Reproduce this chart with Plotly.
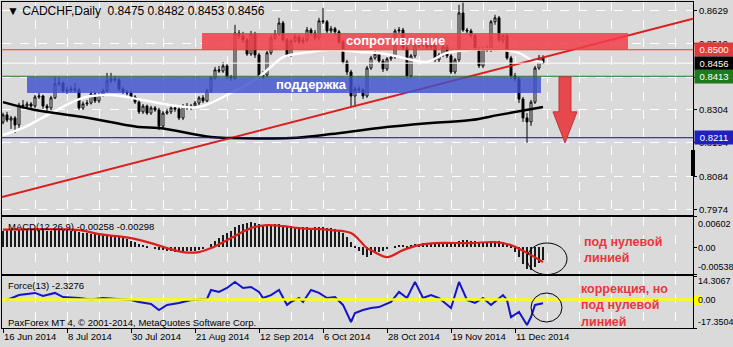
import plotly.graph_objects as go

# ---------------- data ----------------
BAR = list(range(136))
OPEN = [.8262,.8286,.8269,.8276,.8253,.8318,.8315,.8322,.8315,.8345,.8348,.8315,.8309,.8342,.8388,.8391,.8365,.8368,.8371,.8368,
        .8309,.8322,.8325,.8355,.8332,.8351,.8365,.8398,.8404,.8401,.8371,.8361,.8358,.8345,.8328,.8296,.8315,.8292,.8309,.8302,
        .8249,.8292,.8296,.8309,.8305,.8276,.8315,.8309,.8315,.8325,.8342,.8332,.8365,.8407,.8434,.8430,.8447,.8411,.8407,.8555,
        .8546,.8532,.8486,.8552,.8483,.8411,.8417,.8490,.8539,.8552,.8588,.8532,.8483,.8529,.8542,.8526,.8532,.8565,.8555,.8539,
        .8595,.8592,.8562,.8569,.8559,.8526,.8460,.8427,.8348,.8371,.8368,.8348,.8440,.8473,.8486,.8463,.8437,.8470,.8476,.8562,
        .8565,.8506,.8414,.8480,.8513,.8516,.8519,.8509,.8516,.8467,.8483,.8509,.8480,.8427,.8467,.8621,.8565,.8562,.8546,.8503,
        .8447,.8503,.8500,.8592,.8605,.8532,.8546,.8473,.8414,.8404,.8338,.8276,.8263,.8328,.8440,.8475]
HIGH = [.8293,.8296,.8283,.8282,.8326,.8335,.8330,.8328,.8352,.8358,.8352,.8322,.8349,.8411,.8411,.8396,.8378,.8381,.8391,.8374,
        .8330,.8335,.8362,.8361,.8358,.8372,.8424,.8424,.8414,.8408,.8378,.8368,.8365,.8351,.8335,.8322,.8320,.8316,.8315,.8309,
        .8299,.8306,.8318,.8318,.8312,.8322,.8325,.8322,.8332,.8348,.8351,.8372,.8414,.8444,.8447,.8460,.8453,.8417,.8582,.8565,
        .8559,.8539,.8562,.8559,.8490,.8430,.8496,.8549,.8565,.8605,.8595,.8539,.8536,.8552,.8549,.8542,.8575,.8572,.8565,.8605,
        .8638,.8598,.8578,.8575,.8565,.8532,.8467,.8434,.8378,.8381,.8375,.8447,.8480,.8496,.8493,.8470,.8476,.8486,.8569,.8575,
        .8572,.8513,.8486,.8522,.8526,.8532,.8526,.8526,.8522,.8490,.8516,.8516,.8486,.8473,.8648,.8655,.8572,.8569,.8552,.8509,
        .8509,.8513,.8598,.8615,.8611,.8552,.8552,.8480,.8424,.8411,.8345,.8292,.8335,.8447,.8483,.8482]
LOW = [.8255,.8262,.8240,.8226,.8243,.8306,.8308,.8305,.8309,.8338,.8306,.8299,.8302,.8338,.8380,.8358,.8355,.8360,.8361,.8302,
       .8302,.8315,.8320,.8325,.8325,.8345,.8360,.8391,.8394,.8365,.8355,.8350,.8338,.8322,.8289,.8289,.8286,.8286,.8296,.8236,
       .8243,.8286,.8289,.8296,.8269,.8269,.8302,.8302,.8309,.8318,.8325,.8328,.8358,.8401,.8424,.8424,.8404,.8398,.8401,.8536,
       .8522,.8480,.8480,.8473,.8404,.8404,.8411,.8483,.8532,.8546,.8526,.8476,.8476,.8522,.8519,.8519,.8526,.8546,.8532,.8532,
       .8585,.8555,.8555,.8549,.8519,.8453,.8417,.8312,.8312,.8358,.8338,.8342,.8434,.8467,.8457,.8427,.8430,.8463,.8470,.8552,
       .8500,.8407,.8407,.8473,.8506,.8509,.8500,.8500,.8460,.8460,.8476,.8473,.8420,.8420,.8460,.8559,.8552,.8539,.8496,.8440,
       .8440,.8493,.8493,.8582,.8526,.8522,.8467,.8404,.8394,.8325,.8263,.8194,.8250,.8322,.8434,.8453]
CLOSE = [.8286,.8269,.8276,.8253,.8318,.8315,.8322,.8315,.8345,.8348,.8315,.8309,.8342,.8388,.8391,.8365,.8368,.8371,.8368,.8309,
         .8322,.8325,.8355,.8332,.8351,.8365,.8398,.8404,.8401,.8371,.8361,.8358,.8345,.8328,.8296,.8315,.8292,.8309,.8302,.8249,
         .8292,.8296,.8309,.8305,.8276,.8315,.8309,.8315,.8325,.8342,.8332,.8365,.8407,.8434,.8430,.8447,.8411,.8407,.8555,.8546,
         .8532,.8486,.8552,.8483,.8411,.8417,.8490,.8539,.8552,.8588,.8532,.8483,.8529,.8542,.8526,.8532,.8565,.8555,.8539,.8595,
         .8592,.8562,.8569,.8559,.8526,.8460,.8427,.8348,.8371,.8368,.8348,.8440,.8473,.8486,.8463,.8437,.8470,.8476,.8562,.8565,
         .8506,.8414,.8480,.8513,.8516,.8519,.8509,.8516,.8467,.8483,.8509,.8480,.8427,.8467,.8621,.8565,.8562,.8546,.8503,.8447,
         .8503,.8500,.8592,.8605,.8532,.8546,.8473,.8414,.8404,.8338,.8276,.8263,.8328,.8440,.8473,.8456]

MA_WHITE_X = [0,5,12,20,27,35,42,49,57,63,67,70,77,82,89,93,97,102,106,111,117,124,129,132,135]
MA_WHITE_Y = [.8220,.8243,.8292,.8342,.8351,.8335,.8318,.8312,.8358,.8401,.8444,.8476,.8493,.8500,.8493,.8490,
              .8483,.8467,.8460,.8490,.8500,.8500,.8490,.8467,.8460]
MA_BLACK_X = [0,8,20,34,39,52,57,72,82,94,107,117,124,135]
MA_BLACK_Y = [.8328,.8302,.8279,.8246,.8243,.8213,.8210,.8210,.8223,.8243,.8259,.8269,.8286,.8312]

TREND_X = [-0.25, 172.5]
TREND_Y = [0.8016, 0.8602]

MACD = [.0033,.0034,.0034,.0033,.0034,.0035,.0034,.0034,.0035,.0035,.0034,.0033,.0033,.0034,.0035,.0035,.0034,.0033,.0032,.0030,
        .0029,.0028,.0027,.0026,.0025,.0024,.0024,.0024,.0023,.0021,.0019,.0016,.0013,.0010,
        .0006,.0004,.0002,.0000,
        -.0002,-.0005,-.0006,-.0007,-.0008,-.0009,-.0010,-.0009,-.0008,-.0008,-.0007,-.0005,-.0003,
        .0000,.0006,.0012,.0018,.0024,.0028,.0032,.0040,.0044,.0046,.0048,.0050,
        .0049,.0046,.0045,.0045,.0045,.0046,.0047,.0045,.0042,.0042,.0041,.0040,.0040,.0040,.0039,.0040,.0041,.0040,.0039,.0038,
        .0036,.0033,.0028,
        .0020,.0010,.0002,-.0008,-.0016,
        -.0020,-.0016,-.0012,-.0010,-.0008,-.0004,.0000,
        .0003,.0005,.0004,.0002,.0004,.0006,.0007,.0008,.0008,.0008,.0007,.0007,.0008,.0008,.0007,
        .0008,.0012,.0014,.0014,.0013,.0012,.0011,.0010,.0011,.0013,.0013,.0012,.0010,.0006,
        .0001,-.0010,-.0020,-.0034,-.0044,-.0046,-.0040,-.0032,-.00258]
SIG_X = [0,19,24,32,37,41,45,49,52,57,62,66,70,74,82,87,91,92,96,100,104,108,117,123,127,132,135]
SIG_Y = [.0035,.0034,.0026,.0018,.0008,-.0002,-.0010,-.0010,-.0002,.0018,.0038,.0044,.0042,.0038,.0034,.0028,
         -.0002,-.0006,-.0020,-.0006,.0004,.0008,.0008,.0010,.0004,-.0016,-.00298]

FORCE_X = [1,4,8,10,13,15,19,22,25,28,32,34,37,39,41,44,47,51,52,54,56,58,59,60,62,64,65,67,69,70,
           71,72,74,75,77,79,81,83,85,87,88,90,92,94,97,99,101,103,105,107,109,112,114,116,118,120,122,125,126,127,
           129,131,132,133,135]
FORCE_Y = [-0.3,2.7,4.0,2.1,4.0,1.5,0.9,0.0,0.9,0.3,-0.3,-1.5,-2.7,-6.4,-3.3,-2.1,-0.3,0.3,5.8,4.6,
           7.0,10.7,8.8,7.0,7.6,4.6,0.9,2.7,5.8,1.5,-3.3,-1.5,0.9,-1.5,5.8,4.0,0.9,1.5,-3.3,-13.7,
           -8.2,-6.4,-5.2,-4.6,-1.5,4.6,0.9,10.7,0.9,2.7,0.9,-5.2,10.7,-0.3,-2.1,0.9,-3.3,2.7,-0.3,-10.7,
           -7.6,-15.5,-10.7,-3.3,-2.3276]

DATE_POS = [0, 16, 32, 48, 64, 80, 96, 112, 128]
DATE_LABELS = ["16 Jun 2014", "8 Jul 2014", "30 Jul 2014", "21 Aug 2014", "12 Sep 2014",
               "6 Oct 2014", "28 Oct 2014", "19 Nov 2014", "11 Dec 2014"]
PRICE_TICKS = [0.8629, 0.8519, 0.8409, 0.8304, 0.8194, 0.8084, 0.7974]
PRICE_LABELS = ["0.8629", "0.8519", "0.8409", "0.8304", "0.8194", "0.8084", "0.7974"]

LEVEL_RES, LEVEL_CUR, LEVEL_SUP, LEVEL_LOW = 0.8500, 0.8456, 0.8413, 0.8211
RES_BAND = (49.75, 156.25, 0.8500, 0.8555)
SUP_BAND = (6.0, 134.5, 0.8358, 0.8411)

MACD_RANGE = [-0.00538, 0.00602]
FORCE_RANGE = [-17.3504, 14.3067]

# ---------------- figure ----------------
FONT = "Liberation Sans, Arial, sans-serif"
BG = "#DADADA"
XR = [-0.25, 172.5]

fig = go.Figure()
fig.add_trace(go.Candlestick(
    x=BAR, open=OPEN, high=HIGH, low=LOW, close=CLOSE, xaxis="x", yaxis="y",
    increasing=dict(line=dict(color="black", width=1), fillcolor="white"),
    decreasing=dict(line=dict(color="black", width=1), fillcolor="black"),
    whiskerwidth=0, showlegend=False, hoverinfo="skip"))
fig.add_trace(go.Scatter(x=MA_WHITE_X, y=MA_WHITE_Y, mode="lines", line=dict(color="white", width=2.5, shape="spline"),
                         xaxis="x", yaxis="y", showlegend=False, hoverinfo="skip"))
fig.add_trace(go.Scatter(x=MA_BLACK_X, y=MA_BLACK_Y, mode="lines", line=dict(color="black", width=2.5, shape="spline"),
                         xaxis="x", yaxis="y", showlegend=False, hoverinfo="skip"))
fig.add_trace(go.Scatter(x=TREND_X, y=TREND_Y, mode="lines", line=dict(color="#DD1E1E", width=2),
                         xaxis="x", yaxis="y", showlegend=False, hoverinfo="skip", cliponaxis=True))

fig.add_trace(go.Bar(x=BAR, y=MACD, width=0.22, marker=dict(color="#1a1a1a", line=dict(width=0)),
                     xaxis="x2", yaxis="y2", showlegend=False, hoverinfo="skip"))
fig.add_trace(go.Scatter(x=SIG_X, y=SIG_Y, mode="lines", line=dict(color="#DD1E1E", width=2.2, shape="spline"),
                         xaxis="x2", yaxis="y2", showlegend=False, hoverinfo="skip"))
fig.add_trace(go.Scatter(x=FORCE_X, y=FORCE_Y, mode="lines", line=dict(color="#1414C8", width=2),
                         xaxis="x3", yaxis="y3", showlegend=False, hoverinfo="skip"))

def xax(anchor, labels=False):
    d = dict(range=XR, anchor=anchor, tickmode="array", tickvals=DATE_POS,
             showgrid=True, gridcolor="white", griddash="dash", gridwidth=1,
             minor=dict(tick0=0, dtick=8, showgrid=True, gridcolor="white", griddash="dash", gridwidth=1),
             showline=True, mirror=True, linecolor="black", linewidth=1, zeroline=False,
             fixedrange=True, showticklabels=labels)
    if labels:
        d.update(ticktext=DATE_LABELS, ticks="outside", ticklen=4, tickcolor="black",
                 ticklabelposition="outside right", tickfont=dict(family=FONT, size=9.5, color="black"))
    else:
        d.update(ticks="")
    return d

def px_x(px):
    return (px - 2) / 691.0

def px_y(py):
    return (328 - py) / 326.0

fig.update_layout(
    width=733, height=347, margin=dict(l=2, r=40, t=2, b=19),
    paper_bgcolor=BG, plot_bgcolor=BG, showlegend=False, bargap=0,
    xaxis=dict(xax("y"), rangeslider=dict(visible=False)),
    xaxis2=xax("y2"),
    xaxis3=xax("y3", labels=True),
    yaxis=dict(domain=[0.3466, 1.0], range=[0.7957, 0.8657], side="right",
               tickmode="array", tickvals=PRICE_TICKS, ticktext=PRICE_LABELS,
               ticks="outside", ticklen=3, tickcolor="black",
               tickfont=dict(family=FONT, size=9.5, color="black"),
               showgrid=True, gridcolor="white", griddash="dash", gridwidth=1,
               showline=True, mirror=True, linecolor="black", zeroline=False, fixedrange=True),
    yaxis2=dict(domain=[0.1656, 0.3405], range=MACD_RANGE, side="right",
                tickmode="array", tickvals=[MACD_RANGE[1], 0, MACD_RANGE[0]], ticks="outside", ticklen=3,
                tickcolor="black", showticklabels=False, showgrid=False,
                showline=True, mirror=True, linecolor="black", zeroline=False, fixedrange=True),
    yaxis3=dict(domain=[0.0, 0.1595], range=FORCE_RANGE, side="right",
                tickmode="array", tickvals=[FORCE_RANGE[1], 0, FORCE_RANGE[0]], ticks="outside", ticklen=3,
                tickcolor="black", showticklabels=False, showgrid=False,
                showline=True, mirror=True, linecolor="black", zeroline=False, fixedrange=True),
)

shapes = []
# horizontal price levels
for lvl, col in [(LEVEL_RES, "#E03A3A"), (LEVEL_CUR, "white"), (LEVEL_SUP, "#1E7A1E"), (LEVEL_LOW, "#101090")]:
    shapes.append(dict(type="line", xref="x domain", yref="y", x0=0, x1=1, y0=lvl, y1=lvl,
                       line=dict(color=col, width=1), layer="above"))
# bands
shapes.append(dict(type="rect", xref="x", yref="y", x0=RES_BAND[0], x1=RES_BAND[1], y0=RES_BAND[2], y1=RES_BAND[3],
                   fillcolor="rgba(240,62,72,0.85)", line=dict(width=0), layer="above"))
shapes.append(dict(type="rect", xref="x", yref="y", x0=SUP_BAND[0], x1=SUP_BAND[1], y0=SUP_BAND[2], y1=SUP_BAND[3],
                   fillcolor="rgba(62,80,205,0.82)", line=dict(width=0), layer="above"))
# arrow
shapes.append(dict(type="path", xref="x", yref="y",
                   path="M 139,0.8411 L 142,0.8411 L 142,0.8296 L 143.5,0.8296 L 140.5,0.8194 L 137.5,0.8296 L 139,0.8296 Z",
                   fillcolor="#E5484D", line=dict(color="#C83038", width=1), layer="above"))
# force zero level
shapes.append(dict(type="line", xref="x3 domain", yref="y3", x0=0, x1=1, y0=0, y1=0,
                   line=dict(color="#FFFF00", width=2.5), layer="above"))
# circles
shapes.append(dict(type="circle", xref="x2", yref="y2", x0=131, x1=141, y0=-0.0055, y1=0.00082,
                   line=dict(color="black", width=1), layer="above"))
shapes.append(dict(type="circle", xref="x3", yref="y3", x0=132, x1=139.75, y0=-13.7, y1=3.96,
                   line=dict(color="black", width=1), layer="above"))
# small black bar on price scale
shapes.append(dict(type="rect", xref="paper", yref="paper", x0=px_x(691), x1=px_x(695), y0=px_y(176), y1=px_y(150),
                   fillcolor="black", line=dict(width=0), layer="above"))
# yellow marker on force scale
shapes.append(dict(type="rect", xref="paper", yref="paper", x0=px_x(694), x1=px_x(702), y0=px_y(305), y1=px_y(295),
                   fillcolor="#FFFF00", line=dict(width=0), layer="above"))
fig.update_layout(shapes=shapes)

ann = []
def txt(text, px, py, size=9.5, color="black", xanchor="left", bold=False, align="left"):
    ann.append(dict(text=(f"<b>{text}</b>" if bold else text), xref="paper", yref="paper",
                    x=px_x(px), y=px_y(py), xanchor=xanchor, yanchor="middle", showarrow=False, align=align,
                    font=dict(family=FONT, size=size, color=color)))

txt("▼ CADCHF,Daily  0.8475 0.8482 0.8453 0.8456", 5, 11, size=12)
txt("MACD(12,26,9) -0.00258 -0.00298", 6, 226)
txt("Force(13) -2.3276", 6, 285)
txt("PaxForex MT 4, © 2001-2014, MetaQuotes Software Corp.", 6, 322)
txt("сопротивление", 395, 41, size=13, color="white", xanchor="center", bold=True)
txt("поддержка", 311, 84, size=13, color="white", xanchor="center", bold=True)
txt("под нулевой<br>линией", 582, 250, size=12.5, color="#E8363C", bold=True)
txt("коррекция, но<br>под нулевой<br>линией", 579, 305, size=12.5, color="#E8363C", bold=True)

# MACD / Force scale labels
for t, py in [("0.00602", 224), ("0.00", 248), ("-0.00538", 267),
              ("14.3067", 281), ("0.00", 300), ("-17.3504", 322)]:
    txt(t, 696, py, size=9)

# coloured price boxes
for lvl, col in [(LEVEL_RES, "#E03A3A"), (LEVEL_CUR, "black"), (LEVEL_SUP, "#1E7A1E"), (LEVEL_LOW, "#2020C0")]:
    ann.append(dict(text=f"{lvl:.4f}", xref="paper", yref="y", x=px_x(694), y=lvl, xanchor="left", yanchor="middle",
                    showarrow=False, bgcolor=col, width=36, height=11, borderpad=1,
                    font=dict(family=FONT, size=9.5, color="white")))
fig.update_layout(annotations=ann)

fig.write_html("out.html")
